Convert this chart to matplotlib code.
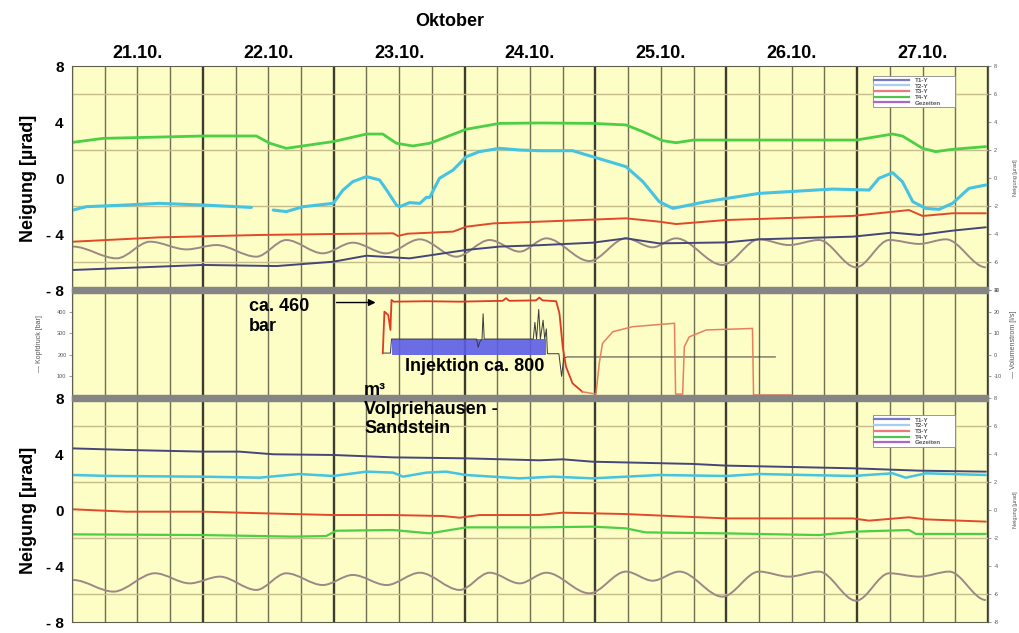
import numpy as np
import matplotlib.pyplot as plt
from matplotlib.path import Path
from matplotlib.patches import PathPatch, Rectangle
from matplotlib.lines import Line2D

plt.rcParams['font.family'] = ['Liberation Sans', 'DejaVu Sans']

# time axis in hours from 21.10. 00:00
days = ['21.10.', '22.10.', '23.10.', '24.10.', '25.10.', '26.10.', '27.10.']

# --- upper tiltmeter (Neigung, µrad) ---
up_t4_t = [0.2, 5.7, 24.0, 33.8, 36.3, 39.3, 47.9, 54.0, 57.0, 59.5, 62.5, 65.6, 72.3, 78.4, 85.7,
           95.5, 101.6, 104.7, 108.3, 110.8, 114.0, 143.8, 150.5, 152.3, 156.0, 158.4, 161.5, 167.6]
up_t4_v = [2.55, 2.83, 3.0, 3.0, 2.48, 2.12, 2.6, 3.14, 3.14, 2.48, 2.29, 2.48, 3.48, 3.9, 3.93,
           3.9, 3.79, 3.31, 2.67, 2.52, 2.71, 2.71, 3.14, 3.0, 2.12, 1.88, 2.05, 2.24]

up_t2a_t = [0.2, 2.6, 9.9, 16.0, 24.0, 32.9]
up_t2a_v = [-2.29, -2.05, -1.93, -1.81, -1.93, -2.1]
up_t2b_t = [36.9, 39.3, 42.4, 47.9, 49.7, 51.5, 54.0, 56.4, 57.7, 59.5, 60.1, 61.9, 63.8, 65.0, 65.6,
            67.4, 69.9, 72.3, 74.7, 78.4, 82.1, 85.7, 91.8, 95.5, 101.6, 104.7, 107.7, 110.2, 116.3,
            126.0, 139.5, 146.2, 148.0, 150.5, 152.3, 154.2, 156.6, 159.0, 161.5, 164.5, 167.6]
up_t2b_v = [-2.29, -2.4, -2.05, -1.81, -0.86, -0.26, 0.1, -0.14, -0.86, -1.93, -2.05, -1.76, -1.81, -1.38, -1.38,
            -0.02, 0.57, 1.52, 1.88, 2.12, 2.0, 1.95, 1.95, 1.52, 0.81, -0.26, -1.69, -2.17, -1.69,
            -1.1, -0.79, -0.86, -0.02, 0.38, -0.26, -1.69, -2.17, -2.24, -1.81, -0.74, -0.5]

up_t3_t = [0.2, 16.0, 34.4, 47.9, 58.9, 59.8, 61.5, 69.9, 72.3, 77.3, 85.7, 101.6, 107.7, 110.8,
           120.0, 143.2, 153.5, 156.0, 161.5, 167.6]
up_t3_v = [-4.55, -4.24, -4.07, -4.0, -3.95, -4.14, -3.98, -3.83, -3.48, -3.24, -3.12, -2.88, -3.12, -3.29,
           -3.0, -2.71, -2.29, -2.71, -2.52, -2.52]

up_t1_t = [0.2, 24.0, 37.5, 47.9, 54.0, 61.9, 72.3, 78.4, 85.7, 95.5, 101.6, 107.7, 120.0, 126.0,
           143.2, 150.5, 155.4, 161.5, 167.6]
up_t1_v = [-6.57, -6.21, -6.29, -5.98, -5.55, -5.74, -5.14, -4.9, -4.8, -4.62, -4.31, -4.67, -4.6, -4.38,
           -4.19, -3.9, -4.07, -3.76, -3.52]

# tide extremes (Gezeiten)
up_tide_t = [0.2, 8.2, 14.3, 21.0, 26.5, 33.8, 39.3, 46.0, 51.5, 57.6, 63.8, 70.5, 76.6, 82.1,
             87.0, 94.9, 101.6, 106.5, 110.8, 119.3, 126.0, 131.5, 137.0, 143.8, 149.9, 155.4, 160.3, 167.6]
up_tide_v = [-4.9, -5.74, -4.55, -5.1, -4.79, -5.62, -4.43, -5.38, -4.62, -5.38, -4.38, -5.62, -4.43, -5.26,
             -4.31, -5.93, -4.31, -4.95, -4.31, -6.21, -4.38, -4.79, -4.43, -6.38, -4.43, -4.71, -4.38, -6.38]

# --- injection well: wellhead pressure [bar] ---
press_inj_t = [57.0, 57.3, 58.0, 58.4, 58.6, 59.0, 65.0, 71.1, 79.0, 79.6, 80.2, 85.1, 85.7, 86.3, 88.8,
               89.4, 90.0, 90.6, 91.8, 93.6]
press_inj_v = [207, 400, 384, 315, 454, 446, 448, 446, 450, 462, 450, 452, 465, 452, 448,
               392, 237, 145, 68, 29]
press_after_t = [93.6, 96.1, 96.7, 97.3, 99.2, 102.8, 110.5, 110.7, 112.0, 112.3,
                 113.2, 116.3, 124.8, 125.0, 132.0]
press_after_v = [29, 18, 160, 253, 307, 330, 346, 18, 18, 237,
                 283, 315, 322, 14, 14]

# flow rate [l/s]
flow_t = [57.0, 58.4, 58.6, 74.2, 74.5, 74.8, 75.2, 75.4, 75.6, 84.6, 84.9, 85.2, 85.6, 85.9, 86.4,
          86.7, 87.0, 87.2, 89.3, 89.8, 90.2, 90.8, 129.0]
flow_v = [0.8, 0.8, 7.3, 7.3, 3.5, 6.0, 7.3, 19.0, 7.3, 7.3, 15.0, 7.3, 21.0, 7.3, 16.0,
          7.3, 12.0, 0.5, 0.5, -10.0, -1.5, -1.0, -1.0]

inj_t = [58.6, 87.0]
inj_v = [7.3, 7.3]

# --- lower tiltmeter ---
lo_t1_t = [0.2, 9.9, 24.0, 30.7, 36.9, 47.9, 58.9, 72.3, 85.7, 90.0, 95.5, 113.8, 120.0, 143.2, 155.4, 167.6]
lo_t1_v = [4.4, 4.29, 4.17, 4.17, 3.98, 3.93, 3.76, 3.69, 3.55, 3.62, 3.45, 3.29, 3.17, 2.98, 2.81, 2.74]

lo_t2_t = [0.2, 6.9, 24.0, 34.4, 41.7, 47.9, 54.0, 58.9, 60.7, 65.0, 68.6, 72.3, 82.1, 88.2, 95.5,
           107.7, 120.0, 126.0, 143.2, 150.5, 152.9, 156.6, 167.6]
lo_t2_v = [2.5, 2.43, 2.38, 2.31, 2.57, 2.43, 2.74, 2.67, 2.38, 2.67, 2.74, 2.5, 2.26, 2.38, 2.26,
           2.5, 2.43, 2.57, 2.43, 2.62, 2.31, 2.62, 2.5]

lo_t3_t = [0.2, 9.9, 24.0, 35.6, 47.9, 58.9, 68.0, 71.1, 74.7, 85.7, 90.0, 101.6, 112.6, 120.0, 143.2,
           146.2, 153.5, 156.6, 167.6]
lo_t3_v = [0.05, -0.12, -0.12, -0.24, -0.36, -0.36, -0.43, -0.55, -0.36, -0.36, -0.19, -0.29, -0.48, -0.6, -0.6,
           -0.76, -0.52, -0.67, -0.83]

lo_t4_t = [0.2, 24.0, 40.5, 46.6, 48.5, 58.9, 65.6, 72.3, 85.7, 95.5, 101.6, 105.2, 120.0, 137.0,
           143.2, 153.5, 154.8, 167.6]
lo_t4_v = [-1.74, -1.79, -1.9, -1.86, -1.48, -1.43, -1.67, -1.24, -1.24, -1.19, -1.31, -1.6, -1.67, -1.79,
           -1.55, -1.43, -1.71, -1.71]

lo_tide_t = [0.2, 7.6, 15.2, 21.6, 27.1, 33.8, 39.3, 46.0, 51.5, 57.7, 63.8, 71.1, 76.6, 82.1,
             87.0, 94.9, 101.6, 106.5, 111.4, 119.3, 126.0, 131.5, 137.0, 143.8, 149.9, 155.4, 160.9, 167.6]
lo_tide_v = [-5.0, -5.83, -4.52, -5.24, -4.76, -5.71, -4.52, -5.36, -4.64, -5.36, -4.48, -5.71, -4.48, -5.24,
             -4.48, -5.95, -4.4, -5.05, -4.4, -6.19, -4.4, -4.76, -4.4, -6.48, -4.52, -4.76, -4.4, -6.43]

tilt_ticks = [8, 4, 0, -4, -8]
tilt_labels = ['8', '4', '0', '- 4', '- 8']
series_names = ['T1-Y', 'T2-Y', 'T3-Y', 'T4-Y', 'Gezeiten']

BG = '#fdfdc6'
C_T1, C_T2, C_T3, C_T4, C_TIDE = '#45457a', '#45c3e0', '#e2482a', '#4ccf45', '#9c8884'
LEG_COLORS = ['#7878c4', '#a8cdf0', '#f07878', '#52c452', '#a868c8']
BIG = 13


def tide_path(t, v):
    # smooth curve through the tidal turning points (horizontal tangents at each extreme)
    verts = [(t[0], v[0])]
    codes = [Path.MOVETO]
    for i in range(1, len(t)):
        d = (t[i] - t[i - 1]) / 3.0
        verts += [(t[i - 1] + d, v[i - 1]), (t[i] - d, v[i]), (t[i], v[i])]
        codes += [Path.CURVE4] * 3
    return Path(verts, codes)


def style_axes(ax, ymin, ymax, ystep):
    ax.set_facecolor(BG)
    ax.set_xlim(0, 168)
    ax.set_ylim(ymin, ymax)
    ax.set_xticks(np.arange(0, 169, 24))
    ax.set_xticks(np.arange(0, 169, 6), minor=True)
    ax.set_yticks(np.arange(ymin, ymax + 0.01, ystep), minor=True)
    ax.xaxis.grid(True, which='minor', color='#6f6f52', lw=1.0)
    ax.xaxis.grid(True, which='major', color='#3c3c2c', lw=1.7)
    ax.yaxis.grid(True, which='minor', color='#c6bd8c', lw=1.0)
    ax.set_axisbelow(True)
    ax.tick_params(which='both', length=0, labelbottom=False)
    for s in ax.spines.values():
        s.set_color('#606050')
        s.set_linewidth(0.8)


def tilt_panel(ax, data):
    style_axes(ax, -8, 8, 2)
    ax.set_yticks(tilt_ticks)
    ax.set_yticklabels(tilt_labels, fontsize=11, fontweight='bold')
    ax.tick_params(axis='y', pad=6)
    ax.set_ylabel('Neigung [µrad]', fontsize=BIG, fontweight='bold', labelpad=6)
    for t, v, c, lw in data['lines']:
        ax.plot(t, v, color=c, lw=lw, solid_capstyle='round')
    ax.add_patch(PathPatch(tide_path(*data['tide']), fill=False, edgecolor=C_TIDE, lw=1.4))
    sec = ax.secondary_yaxis('right')
    sec.set_yticks(np.arange(-8, 9, 2))
    sec.set_yticklabels([str(v) for v in np.arange(-8, 9, 2)], fontsize=4, color='#555555')
    sec.tick_params(length=2, width=0.5, color='#777777', pad=2)
    sec.set_ylabel('Neigung [µrad]', fontsize=4, color='#555555', labelpad=10)
    handles = [Line2D([], [], color=c, lw=1.6) for c in LEG_COLORS]
    leg = ax.legend(handles, series_names, loc='lower left', bbox_to_anchor=data['leg_box'],
                    mode='expand', borderaxespad=0, handlelength=5.5, labelspacing=0.05,
                    handletextpad=1.0, borderpad=0.3, fancybox=False, framealpha=1,
                    prop={'size': 4.5, 'weight': 'bold'})
    leg.get_frame().set_edgecolor('#888888')
    leg.get_frame().set_linewidth(0.6)
    for txt in leg.get_texts():
        txt.set_color('#555555')


fig = plt.figure(figsize=(10.2, 6.33), dpi=100)
L, W = 72 / 1020, 916 / 1020
ax_top = fig.add_axes([L, 1 - 290 / 633, W, 224 / 633])
ax_mid = fig.add_axes([L, 1 - 398 / 633, W, 108 / 633])
ax_bot = fig.add_axes([L, 1 - 622 / 633, W, 224 / 633])

tilt_panel(ax_top, {
    'lines': [(up_t1_t, up_t1_v, C_T1, 1.4), (up_t3_t, up_t3_v, C_T3, 1.4),
              (up_t4_t, up_t4_v, C_T4, 2.0), (up_t2a_t, up_t2a_v, C_T2, 2.2),
              (up_t2b_t, up_t2b_v, C_T2, 2.2)],
    'tide': (up_tide_t, up_tide_v),
    'leg_box': (0.874, 0.815, 0.09, 0.145),
})
tilt_panel(ax_bot, {
    'lines': [(lo_t1_t, lo_t1_v, C_T1, 1.4), (lo_t2_t, lo_t2_v, C_T2, 1.8),
              (lo_t3_t, lo_t3_v, C_T3, 1.4), (lo_t4_t, lo_t4_v, C_T4, 1.6)],
    'tide': (lo_tide_t, lo_tide_v),
    'leg_box': (0.874, 0.78, 0.09, 0.145),
})

# day labels and month above the top panel
for i, d in enumerate(days):
    ax_top.text(i * 24 + 12, 8.25, d, ha='center', va='bottom', fontsize=BIG, fontweight='bold')
ax_top.text(69.3, 10.6, 'Oktober', ha='center', va='bottom', fontsize=BIG, fontweight='bold')

# middle panel: wellhead pressure (left) and flow rate (right)
style_axes(ax_mid, 0, 500, 100)
ax_mid.set_yticks([100, 200, 300, 400])
ax_mid.set_yticklabels(['100', '200', '300', '400'], fontsize=4, color='#555555')
ax_mid.tick_params(axis='y', length=2, width=0.5, color='#777777', pad=2)
ax_mid.set_ylabel('— Kopfdruck [bar]', fontsize=5, color='#555555', labelpad=10)
ax_mid.set_zorder(0)

ax_flow = ax_mid.twinx()
ax_flow.set_zorder(1)
ax_flow.patch.set_visible(False)
ax_flow.set_ylim(-20, 30)
ax_flow.set_yticks([-10, 0, 10, 20, 30])
ax_flow.set_yticklabels(['-10', '0', '10', '20', '30'], fontsize=4, color='#555555')
ax_flow.tick_params(length=2, width=0.5, color='#777777', pad=2)
ax_flow.set_ylabel('— Volumenstrom [l/s]', fontsize=5, color='#555555', labelpad=6)
for s in ax_flow.spines.values():
    s.set_visible(False)
ax_flow.fill_between(inj_t, 0, inj_v, color='#5c5ce8', alpha=0.9, lw=0)
ax_flow.plot(flow_t, flow_v, color='#3a3a3a', lw=0.7)

# pressure on top of the flow fill, mapped onto the left (bar) scale
ax_press = ax_mid.twinx()
ax_press.set_zorder(2)
ax_press.patch.set_visible(False)
ax_press.set_ylim(ax_mid.get_ylim())
ax_press.axis('off')
ax_press.plot(press_inj_t, press_inj_v, color='#e03a22', lw=1.3)
ax_press.plot(press_after_t, press_after_v, color='#e8805e', lw=1.1)

# thick separators between panels
for y in (290, 398):
    fig.patches.append(Rectangle((L, 1 - (y + 3) / 633), W, 6 / 633, transform=fig.transFigure,
                                 color='#858585', zorder=2.5))

# annotations
fig.text(32.5, 463, 'ca. 460\nbar', transform=ax_mid.transData, fontsize=BIG, fontweight='bold',
         va='top', ha='left', linespacing=1.25, zorder=4)
ax_mid.annotate('', xy=(56.2, 442), xytext=(48.0, 442),
                arrowprops=dict(arrowstyle='-|>', color='black', lw=1.0, mutation_scale=10),
                annotation_clip=False)
fig.text(61.0, 148, 'Injektion ca. 800', transform=ax_mid.transData, fontsize=BIG, fontweight='bold',
         va='center', ha='left', zorder=4)
fig.text(53.6, 75, 'm³\nVolpriehausen -\nSandstein', transform=ax_mid.transData, fontsize=BIG,
         fontweight='bold', va='top', ha='left', linespacing=1.15, zorder=4)

fig.savefig('out.png', dpi=100, facecolor='white')
